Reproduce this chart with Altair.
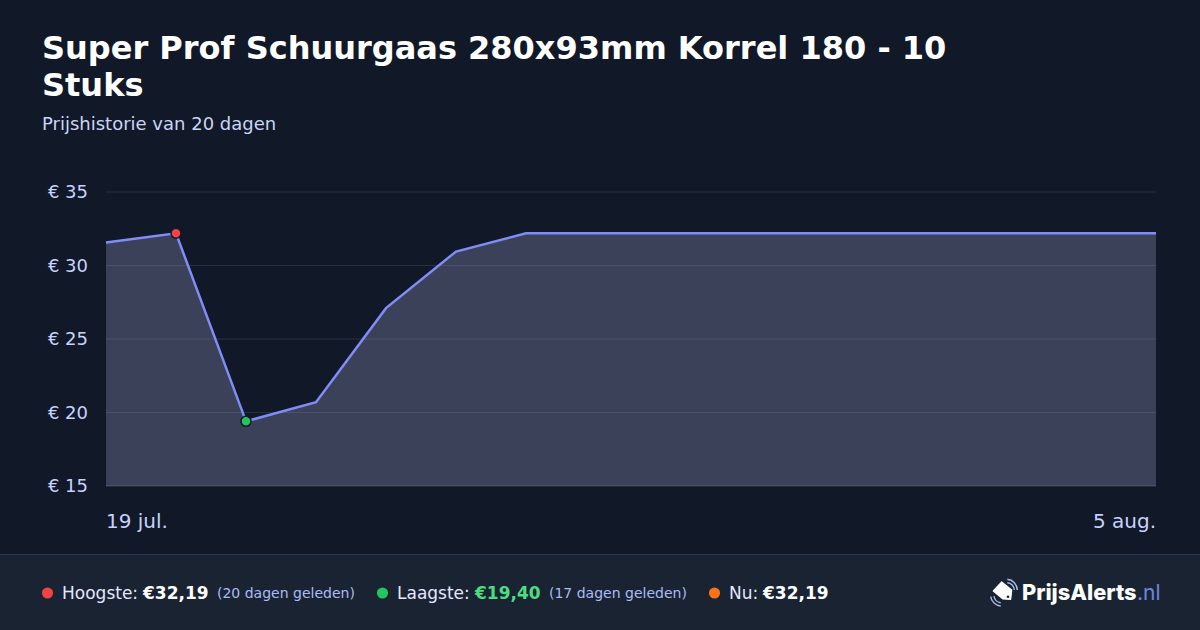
import altair as alt
import pandas as pd

dates = ["19 jul."] + [""] * 14 + ["5 aug."]
prices = [31.56, 32.19, 19.40, 20.70, 27.10, 30.95, 32.19, 32.19, 32.19, 32.19, 32.19, 32.19, 32.19, 32.19, 32.19, 32.19]
idx = list(range(16))
ticks = [15, 20, 25, 30, 35]
high_i, low_i = 1, 2

BG = "#111827"
FOOT = "#1a2332"
FONT = "DejaVu Sans"
W, H = 1050, 294


def px(x):
    return x - 106


def py(y):
    return y - 192


df = pd.DataFrame({"i": idx, "p": prices})
xs = alt.Scale(domain=[0, 15], nice=False, zero=False)
ys = alt.Scale(domain=[15, 35], nice=False, zero=False)
X = alt.X("i:Q", scale=xs, axis=None)
Y = alt.Y("p:Q", scale=ys, axis=None)
ONE = pd.DataFrame({"a": [0]})


def text(t, x, y, size, color, weight="normal", align="left", font=FONT):
    return (
        alt.Chart(pd.DataFrame({"t": [t]}))
        .mark_text(align=align, baseline="alphabetic", fontSize=size, color=color, fontWeight=weight, font=font, clip=False)
        .encode(x=alt.value(px(x)), y=alt.value(py(y)), text="t:N")
    )


def dot(x, y, color, size=125):
    return alt.Chart(ONE).mark_point(filled=True, size=size, color=color, opacity=1).encode(
        x=alt.value(px(x)), y=alt.value(py(y))
    )


footer = alt.Chart(ONE).mark_rect(color=FOOT).encode(
    x=alt.value(px(-10)), x2=alt.value(px(1210)), y=alt.value(py(555)), y2=alt.value(py(640))
)
footer_line = alt.Chart(ONE).mark_rule(color="#2a3555", strokeWidth=1).encode(
    x=alt.value(px(-10)), x2=alt.value(px(1210)), y=alt.value(py(554.5))
)

grid = alt.Chart(pd.DataFrame({"t": ticks[1:]})).mark_rule(color="#ffffff", opacity=0.1, strokeWidth=1).encode(
    y=alt.Y("t:Q", scale=ys, axis=None), x=alt.value(0), x2=alt.value(W)
)
base_line = alt.Chart(pd.DataFrame({"t": [15]})).mark_rule(color="#ffffff", opacity=0.2).encode(
    y=alt.Y("t:Q", scale=ys, axis=None), x=alt.value(0), x2=alt.value(W)
)
area = alt.Chart(df).mark_area(color="#9da1cc", opacity=0.3).encode(x=X, y=Y, y2=alt.datum(15))
line = alt.Chart(df).mark_line(color="#818cf8", strokeWidth=2.5).encode(x=X, y=Y)
pts = (
    alt.Chart(pd.DataFrame({"i": [high_i, low_i], "p": [prices[high_i], prices[low_i]], "c": ["#ef4444", "#22c55e"]}))
    .mark_point(filled=True, size=100, opacity=1, stroke=BG, strokeWidth=1.5)
    .encode(x=X, y=Y, fill=alt.Fill("c:N", scale=None))
)
y_labels = (
    alt.Chart(pd.DataFrame({"t": ticks, "l": [f"€ {v}" for v in ticks]}))
    .mark_text(align="right", baseline="middle", dy=1, fontSize=18, color="#c7d2fe", font=FONT, clip=False)
    .encode(y=alt.Y("t:Q", scale=ys, axis=None), x=alt.value(-18), text="l:N")
)

TAG = "M-0.13,-0.9 L0.87,-0.1 L0.77,0.83 L0,0.8 L-0.97,0 Z"
ARCS = (
    "M0.43,-1.17 A1.1,1.1 0 0 1 1.43,-0.1 "
    "M0.43,-0.83 A0.75,0.75 0 0 1 1.13,-0.1 "
    "M-1.23,0.57 A1.1,1.1 0 0 0 -0.23,1.5 "
    "M-0.9,0.5 A0.75,0.75 0 0 0 -0.23,1.17"
)
logo_tag = alt.Chart(ONE).mark_point(
    shape=TAG, filled=True, color="#ffffff", stroke="#ffffff", strokeWidth=1.2, strokeJoin="round", size=400, opacity=1
).encode(x=alt.value(px(1003)), y=alt.value(py(591)))
logo_arcs = alt.Chart(ONE).mark_point(
    shape=ARCS, filled=False, stroke="#a9bcf0", strokeWidth=1.4, size=400, opacity=1
).encode(x=alt.value(px(1003)), y=alt.value(py(591)))
logo_hole = dot(1008, 596.7, FOOT, size=7)

layers = [
    footer, footer_line, grid, base_line, area, line, pts, y_labels,
    text("Super Prof Schuurgaas 280x93mm Korrel 180 - 10", 42, 59, 32, "#ffffff", "bold"),
    text("Stuks", 42, 96, 32, "#ffffff", "bold"),
    text("Prijshistorie van 20 dagen", 42, 130, 18, "#cbd5f5"),
    text(dates[0], 106, 528, 20, "#c7d2fe"),
    text(dates[-1], 1156, 528, 20, "#c7d2fe", align="right"),
    dot(47.5, 593, "#ef4444"),
    text("Hoogste:", 62, 599, 17, "#e2e8ff"),
    text("€32,19", 143, 599, 17, "#ffffff", "bold"),
    text("(20 dagen geleden)", 217, 598, 14, "#aabcf5"),
    dot(382.5, 593, "#22c55e"),
    text("Laagste:", 397, 599, 17, "#e2e8ff"),
    text("€19,40", 475, 599, 17, "#4ade80", "bold"),
    text("(17 dagen geleden)", 549, 598, 14, "#aabcf5"),
    dot(714.5, 593, "#f97316"),
    text("Nu:", 729, 599, 17, "#e2e8ff"),
    text("€32,19", 763, 599, 17, "#ffffff", "bold"),
    logo_arcs, logo_tag, logo_hole,
    text("PrijsAlerts", 1022, 600, 21.8, "#ffffff", 800, font="Inter"),
    text(".nl", 1137, 600, 21, "#6f86e0", font="Inter"),
]

chart = (
    alt.layer(*layers)
    .properties(
        width=W,
        height=H,
        background=BG,
        padding={"left": 106, "top": 192, "right": 44, "bottom": 144},
        autosize=alt.AutoSizeParams(type="none"),
    )
    .configure_view(stroke=None)
)
chart.save(
    "out.html",
    embed_options={
        "renderer": "svg",
        "actions": False,
        "defaultStyle": "html,body{margin:0;padding:0;background:#111827;overflow:hidden}",
    },
)
